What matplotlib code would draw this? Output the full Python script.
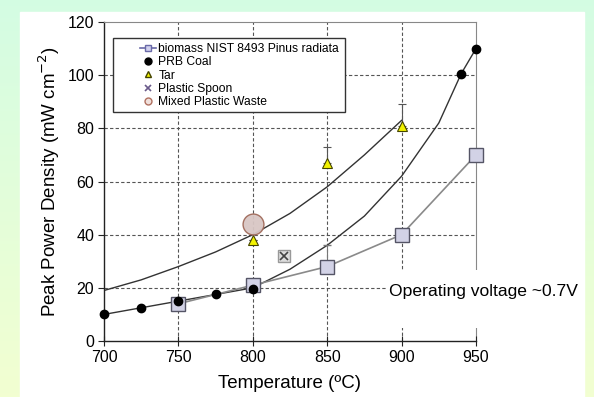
import matplotlib.pyplot as plt
import numpy as np
from matplotlib.patches import Rectangle
from matplotlib.lines import Line2D

plt.rcParams['font.family'] = ['Liberation Sans', 'DejaVu Sans']

# data
bio_t = [750, 800, 850, 900, 950]
bio_p = [14, 21, 28, 40, 70]
bio_err_up = [0, 0, 8, 0, 0]

coal_t = [700, 725, 750, 775, 800, 940, 950]
coal_p = [10, 12.5, 15, 17.5, 19.5, 100.5, 110]

# trend line through the coal data (read as points from the picture)
coal_fit_t = [700, 725, 750, 775, 800, 825, 850, 875, 900, 925, 940, 950]
coal_fit_p = [10, 12.5, 15, 17.5, 20, 27, 36, 47, 62, 82, 100.5, 110]

tar_t = [800, 850, 900]
tar_p = [38, 67, 81]
tar_err_up = [0, 6, 8]
tar_err_dn = [0, 0, 0]

# trend line through tar / plastic points
tar_fit_t = [700, 725, 750, 775, 800, 825, 850, 875, 900]
tar_fit_p = [19, 23, 28, 33.5, 40, 48, 58, 70, 83]

spoon_t = [821]
spoon_p = [32]

mpw_t = [800]
mpw_p = [44]

labels = ['biomass NIST 8493 Pinus radiata', 'PRB Coal', 'Tar',
          'Plastic Spoon', 'Mixed Plastic Waste']

fig = plt.figure(figsize=(5.94, 3.97), dpi=100)

# slide background: mint/yellow gradient with a white panel
bg = fig.add_axes([0, 0, 1, 1], zorder=-10)
top = np.array([0.83, 0.99, 0.89])
bot = np.array([0.95, 1.0, 0.82])
grad = np.linspace(0, 1, 200)[:, None, None]
img = top + (bot - top) * grad
bg.imshow(np.repeat(img, 2, axis=1), aspect='auto', extent=[0, 1, 0, 1])
bg.add_patch(Rectangle((20 / 594, 0), (584 - 20) / 594, 1 - 12 / 397,
                       color='white', transform=bg.transAxes))
bg.set_xlim(0, 1)
bg.set_ylim(0, 1)
bg.axis('off')

ax = fig.add_axes([104 / 594, 1 - 341 / 397, (476 - 104) / 594, (341 - 22) / 397])
ax.set_facecolor('none')

ax.plot(tar_fit_t, tar_fit_p, color='#333333', lw=1.0, zorder=2)
ax.plot(coal_fit_t, coal_fit_p, color='#333333', lw=1.0, zorder=2)

ax.errorbar(bio_t, bio_p, yerr=[[0] * 5, bio_err_up], color='#8a8a8a', lw=1.2,
            marker='s', ms=10, mfc='#d2d2e6', mec='#555566', mew=1.0,
            ecolor='#777777', elinewidth=0.8, capsize=3, zorder=3, clip_on=False)
ax.plot(coal_t, coal_p, 'o', color='black', ms=6, zorder=4, clip_on=False)
ax.errorbar(tar_t, tar_p, yerr=[tar_err_dn, tar_err_up], fmt='^', ms=7,
            mfc='#f2f200', mec='#444400', mew=0.8, ecolor='#555555',
            elinewidth=0.8, capsize=3, zorder=4)
ax.plot(spoon_t, spoon_p, 's', ms=9, mfc='#dddddd', mec='#999999', zorder=4)
ax.plot(spoon_t, spoon_p, 'x', ms=6, color='#444444', mew=1.2, zorder=5)
ax.plot(mpw_t, mpw_p, 'o', ms=15, mfc='#d8c6c4', mec='#a06a5a', mew=1.0,
        zorder=5, alpha=0.95)

ax.set_xlim(700, 950)
ax.set_ylim(0, 120)
ax.set_xticks([700, 750, 800, 850, 900, 950])
ax.set_yticks([0, 20, 40, 60, 80, 100, 120])

for x in [750, 800, 850, 900]:
    ax.axvline(x, color='#555555', lw=0.8, ls=(0, (3, 2)), zorder=1)
for y in [20, 40, 60, 80, 100]:
    ax.axhline(y, color='#555555', lw=0.8, ls=(0, (3, 2)), zorder=1)

for s in ['left', 'bottom']:
    ax.spines[s].set_color('#222222')
    ax.spines[s].set_linewidth(1.0)
for s in ['top', 'right']:
    ax.spines[s].set_color('#888888')
    ax.spines[s].set_linewidth(0.8)
ax.tick_params(axis='both', labelsize=11.5, color='#222222', length=4, pad=3)
ax.tick_params(axis='x', direction='inout', length=7)

ax.set_xlabel('Temperature (ºC)', fontsize=13.5, labelpad=7)
ax.set_ylabel('Peak Power Density (mW cm$^{-2}$)', fontsize=13.5, labelpad=4)

# white block behind the annotation hides grid and right spine
blank = Rectangle((0.76, 0.04), 0.52, 0.183, transform=ax.transAxes,
                  facecolor='white', edgecolor='none', zorder=5.5, clip_on=False)
ax.add_patch(blank)
ax.spines['right'].set_zorder(0)
ax.text(891.5, 18.8, 'Operating voltage ~0.7V', fontsize=12.6, ha='left',
        va='center', zorder=6, clip_on=False)

# legend: frame drawn by hand (wide left padding as in the original)
ax.add_patch(Rectangle((0.024, 0.718), 0.624, 0.232, transform=ax.transAxes,
                       facecolor='white', edgecolor='#333333', lw=1.0, zorder=7))
handles = [
    Line2D([], [], color='#6a6aa8', lw=1.2, marker='s', ms=5,
           mfc='#d2d2ee', mec='#6a6aa8'),
    Line2D([], [], ls='', marker='o', ms=5, color='black'),
    Line2D([], [], ls='', marker='^', ms=5, mfc='#f2f200', mec='#444400'),
    Line2D([], [], ls='', marker='x', ms=5, color='#6a5a8a', mew=1.2),
    Line2D([], [], ls='', marker='o', ms=5, mfc='#f0e0dc', mec='#b07060'),
]
leg = ax.legend(handles, labels, loc='upper left', bbox_to_anchor=(0.075, 0.96),
                fontsize=8.7, numpoints=1, handlelength=1.3, handletextpad=0.2,
                labelspacing=0.1, borderpad=0.2, frameon=False)
leg.set_zorder(8)

fig.savefig('out.png', dpi=100)
